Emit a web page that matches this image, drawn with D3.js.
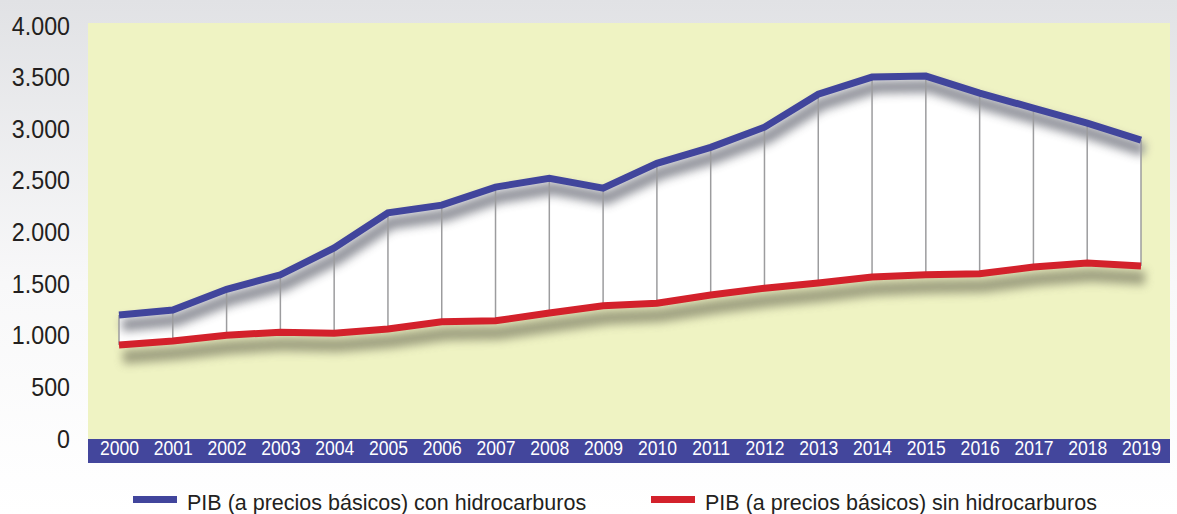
<!DOCTYPE html>
<html>
<head>
<meta charset="utf-8">
<script src="https://cdn.jsdelivr.net/npm/d3@7"></script>
<style>
	html, body { margin: 0; padding: 0; background: #fff; }
	svg { display: block; font-family: 'Liberation Sans', Arial, sans-serif; }
</style>
</head>
<body>
<div id="chart-container"></div>
<script>
// PIB a precios básicos, millones
const years = ['2000', '2001', '2002', '2003', '2004', '2005', '2006', '2007', '2008', '2009',
	'2010', '2011', '2012', '2013', '2014', '2015', '2016', '2017', '2018', '2019'];
const conHidrocarburos = [1200, 1250, 1450, 1590, 1850, 2190, 2265, 2440, 2525, 2430,
	2670, 2825, 3020, 3340, 3505, 3515, 3350, 3205, 3060, 2895];
const sinHidrocarburos = [910, 950, 1005, 1035, 1025, 1065, 1135, 1145, 1220, 1290,
	1315, 1395, 1460, 1510, 1570, 1590, 1600, 1665, 1705, 1675];
const yTicks = [0, 500, 1000, 1500, 2000, 2500, 3000, 3500, 4000];
const legendLabels = ['PIB (a precios básicos) con hidrocarburos', 'PIB (a precios básicos) sin hidrocarburos'];

const W = 1177, H = 514;
const plot = { left: 88, right: 1170, top: 23, bottom: 439 };
const bandH = 24;
const cfg = { stroke: 7, blue: '#41459c', red: '#d3212b' };

const svg = d3.select('#chart-container')
	.append('svg')
	.attr('width', W)
	.attr('height', H);

const defs = svg.append('defs');

const bg = defs.append('linearGradient')
	.attr('id', 'bg-grad')
	.attr('x1', 0).attr('y1', 0).attr('x2', 0).attr('y2', 1);
bg.append('stop').attr('offset', '0%').attr('stop-color', '#e1e2e5');
bg.append('stop').attr('offset', '55%').attr('stop-color', '#f8f8f9');
bg.append('stop').attr('offset', '100%').attr('stop-color', '#ffffff');

defs.append('filter')
	.attr('id', 'blur')
	.attr('x', '-10%').attr('y', '-50%').attr('width', '120%').attr('height', '200%')
	.append('feGaussianBlur')
	.attr('stdDeviation', 5);

svg.append('rect')
	.attr('width', W)
	.attr('height', H)
	.attr('fill', 'url(#bg-grad)');

svg.append('rect')
	.attr('x', plot.left)
	.attr('y', plot.top)
	.attr('width', plot.right - plot.left)
	.attr('height', plot.bottom - plot.top)
	.attr('fill', '#eff3c3');

const x = d3.scalePoint().domain(years).range([119, 1141]);
const y = d3.scaleLinear().domain([0, 4000]).range([plot.bottom, 26]);

const locale = d3.formatLocale({ decimal: ',', thousands: '.', grouping: [3], currency: ['', ''] });
const fmt = locale.format(',d');

const conData = years.map((yr, i) => ({ year: yr, v: conHidrocarburos[i] }));
const sinData = years.map((yr, i) => ({ year: yr, v: sinHidrocarburos[i] }));

const line = d3.line()
	.x(d => x(d.year))
	.y(d => y(d.v));

const area = d3.area()
	.x((d, i) => x(years[i]))
	.y0((d, i) => y(sinHidrocarburos[i]))
	.y1((d, i) => y(conHidrocarburos[i]));

// shadow under the red line
svg.append('path')
	.attr('d', line(sinData))
	.attr('transform', 'translate(4,12)')
	.attr('fill', 'none')
	.attr('stroke', '#8a8b70')
	.attr('stroke-width', 14)
	.attr('opacity', 0.8)
	.attr('filter', 'url(#blur)');

// white band between the two series
svg.append('path')
	.attr('d', area(years))
	.attr('fill', '#ffffff');

// shadow under the blue line
svg.append('path')
	.attr('d', line(conData))
	.attr('transform', 'translate(3,10)')
	.attr('fill', 'none')
	.attr('stroke', '#83858e')
	.attr('stroke-width', 13)
	.attr('opacity', 0.9)
	.attr('filter', 'url(#blur)');

// vertical connectors for each year
svg.append('g')
	.selectAll('line')
	.data(years)
	.enter()
	.append('line')
	.attr('x1', d => x(d))
	.attr('x2', d => x(d))
	.attr('y1', (d, i) => y(conHidrocarburos[i]))
	.attr('y2', (d, i) => y(sinHidrocarburos[i]))
	.attr('stroke', '#9c9c9e')
	.attr('stroke-width', 1.5);

svg.append('path')
	.attr('d', line(sinData))
	.attr('fill', 'none')
	.attr('stroke', cfg.red)
	.attr('stroke-width', cfg.stroke);

svg.append('path')
	.attr('d', line(conData))
	.attr('fill', 'none')
	.attr('stroke', cfg.blue)
	.attr('stroke-width', cfg.stroke);

// y axis labels
const yAxis = d3.axisLeft(y)
	.tickValues(yTicks)
	.tickFormat(fmt)
	.tickSize(0)
	.tickPadding(0);

const yAxisElem = svg.append('g')
	.attr('transform', 'translate(70,0)')
	.call(yAxis);
yAxisElem.select('.domain').remove();
yAxisElem.selectAll('text')
	.attr('font-size', 25)
	.attr('transform', 'scale(0.93,1)')
	.attr('fill', '#231f20')
	.attr('font-family', "'Liberation Sans', Arial, sans-serif");

// x axis band
svg.append('rect')
	.attr('x', plot.left)
	.attr('y', plot.bottom)
	.attr('width', plot.right - plot.left)
	.attr('height', bandH)
	.attr('fill', '#43469c');

const xAxis = d3.axisBottom(x).tickSize(0).tickPadding(0);
const xAxisElem = svg.append('g')
	.attr('transform', 'translate(0,' + (plot.bottom + 2) + ')')
	.call(xAxis);
xAxisElem.select('.domain').remove();
xAxisElem.selectAll('text')
	.attr('font-size', 19.5)
	.attr('transform', 'scale(0.9,1)')
	.attr('fill', '#ffffff')
	.attr('font-family', "'Liberation Sans', Arial, sans-serif");

// legend
const legendItems = [
	{ label: legendLabels[0], color: cfg.blue, x: 133 },
	{ label: legendLabels[1], color: cfg.red, x: 651 },
];
const legend = svg.append('g')
	.selectAll('g')
	.data(legendItems)
	.enter()
	.append('g')
	.attr('transform', d => 'translate(' + d.x + ',0)');
legend.append('rect')
	.attr('x', 0)
	.attr('y', 496)
	.attr('width', 44)
	.attr('height', 7)
	.attr('fill', d => d.color);
legend.append('text')
	.attr('x', 54)
	.attr('y', 510)
	.attr('font-size', 21.5)
	.attr('fill', '#231f20')
	.text(d => d.label);
</script>
</body>
</html>
